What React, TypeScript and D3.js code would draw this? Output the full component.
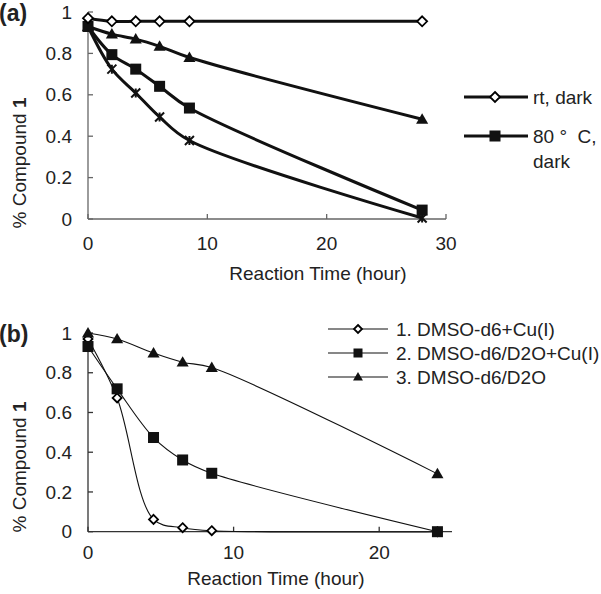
import * as d3 from "d3";

// panel (a): hours and % Compound 1
const hoursA = [0, 2, 4, 6, 8.5, 28];
const rtDark = [0.97, 0.955, 0.955, 0.955, 0.955, 0.955];
const hotDark = [0.93, 0.794, 0.724, 0.641, 0.536, 0.043];
const triA = [0.93, 0.893, 0.869, 0.834, 0.78, 0.482];
const crossA = [0.93, 0.724, 0.609, 0.493, 0.379, 0.005];

// panel (b)
const hoursB = [0, 2, 4.5, 6.5, 8.5, 24];
const dmsoCu = [0.97, 0.673, 0.062, 0.02, 0.005, 0];
const dmsoD2oCu = [0.932, 0.719, 0.474, 0.361, 0.294, 0];
const dmsoD2o = [1.0, 0.97, 0.899, 0.853, 0.826, 0.291];

const yTicks = [0, 0.2, 0.4, 0.6, 0.8, 1];
const xTicksA = [0, 10, 20, 30];
const xTicksB = [0, 10, 20];

const FONT = "Liberation Sans, Arial, sans-serif";

type Shape = "diamond" | "square" | "triangle" | "cross";

function Marker({ shape, x, y, s }: { shape: Shape; x: number; y: number; s: number }) {
  const h = s / 2;
  if (shape === "diamond")
    return (
      <path
        d={`M${x},${y - h}L${x + h},${y}L${x},${y + h}L${x - h},${y}Z`}
        fill="#fff"
        stroke="#000"
        strokeWidth={1.8}
      />
    );
  if (shape === "square")
    return <rect x={x - h} y={y - h} width={s} height={s} fill="#111" />;
  if (shape === "triangle")
    return (
      <path
        d={`M${x},${y - h * 1.1}L${x + h * 1.1},${y + h * 0.8}L${x - h * 1.1},${y + h * 0.8}Z`}
        fill="#111"
      />
    );
  return (
    <path
      d={`M${x - h},${y - h}L${x + h},${y + h}M${x - h},${y + h}L${x + h},${y - h}M${x},${y - h}L${x},${y + h}`}
      stroke="#111"
      strokeWidth={2}
      fill="none"
    />
  );
}

function Series({
  xs, ys, x, y, shape, size, width,
}: {
  xs: number[]; ys: number[]; x: d3.ScaleLinear<number, number>; y: d3.ScaleLinear<number, number>;
  shape: Shape; size: number; width: number;
}) {
  const pts = xs.map((d, i) => [d, ys[i]] as [number, number]);
  const line = d3
    .line<[number, number]>()
    .x((d) => x(d[0]))
    .y((d) => y(d[1]))
    .curve(d3.curveCatmullRom.alpha(0.5));
  return (
    <g>
      <path d={line(pts) || ""} fill="none" stroke="#111" strokeWidth={width} />
      {pts.map((d, i) => (
        <Marker key={i} shape={shape} x={x(d[0])} y={y(d[1])} s={size} />
      ))}
    </g>
  );
}

function Axes({
  x, y, xTicks, titleX, titleY, tickDy, yTitleY, label, labelY, color,
}: {
  x: d3.ScaleLinear<number, number>; y: d3.ScaleLinear<number, number>; xTicks: number[];
  titleX: number; titleY: number; tickDy: number; yTitleY: number; label: string; labelY: number; color: string;
}) {
  const [x0, x1] = x.range();
  const [y0, y1] = y.range();
  const fs = 19;
  return (
    <g fontFamily={FONT} fill="#222">
      <line x1={x0} x2={x0} y1={y0} y2={y1} stroke={color} strokeWidth={1.3} />
      <line x1={x0} x2={x1} y1={y0} y2={y0} stroke={color} strokeWidth={1.3} />
      {xTicks.map((t) => (
        <g key={t}>
          <line x1={x(t)} x2={x(t)} y1={y0} y2={y0 - 5} stroke={color} strokeWidth={1.3} />
          <text x={x(t)} y={y0 + tickDy} fontSize={fs} textAnchor="middle" dy="0.35em">
            {t}
          </text>
        </g>
      ))}
      {yTicks.map((t) => (
        <g key={t}>
          <line x1={x0} x2={x0 + 5} y1={y(t)} y2={y(t)} stroke={color} strokeWidth={1.3} />
          <text x={x0 - 16} y={y(t)} fontSize={fs} textAnchor="end" dy="0.35em">
            {t}
          </text>
        </g>
      ))}
      <text x={titleX} y={titleY} fontSize={fs} textAnchor="middle" dy="0.35em">
        Reaction Time (hour)
      </text>
      <text
        transform={`translate(19,${yTitleY}) rotate(-90)`}
        fontSize={fs}
        textAnchor="middle"
        dy="0.35em"
      >
        % Compound <tspan fontWeight="bold">1</tspan>
      </text>
      <text x={-1} y={labelY} fontSize={23} fontWeight="bold" dy="0.35em">
        {label}
      </text>
    </g>
  );
}

export default function App() {
  const xA = d3.scaleLinear().domain([0, 30]).range([88, 446]);
  const yA = d3.scaleLinear().domain([0, 1]).range([219, 12]);
  const xB = d3.scaleLinear().domain([0, 25]).range([88, 452]);
  const yB = d3.scaleLinear().domain([0, 1]).range([531.7, 333]);

  const legA = [
    { label: ["rt, dark"], shape: "diamond" as Shape, y: 97 },
    { label: ["80 \u00b0\u00a0 C,", "dark"], shape: "square" as Shape, y: 136 },
  ];
  const legB = [
    { label: "1. DMSO-d6+Cu(I)", shape: "diamond" as Shape, y: 329 },
    { label: "2. DMSO-d6/D2O+Cu(I)", shape: "square" as Shape, y: 353 },
    { label: "3. DMSO-d6/D2O", shape: "triangle" as Shape, y: 377 },
  ];

  return (
    <svg width={601} height={594} style={{ position: "absolute", left: 0, top: 0, background: "#fff" }}>
      <rect width={601} height={594} fill="#fff" />
      {/* panel (a) */}
      <Axes x={xA} y={yA} xTicks={xTicksA} titleX={318} titleY={273} tickDy={24} yTitleY={163} label="(a)" labelY={13} color="#666" />
      <Series xs={hoursA} ys={crossA} x={xA} y={yA} shape="cross" size={9} width={3} />
      <Series xs={hoursA} ys={hotDark} x={xA} y={yA} shape="square" size={11} width={3} />
      <Series xs={hoursA} ys={triA} x={xA} y={yA} shape="triangle" size={11} width={3} />
      <Series xs={hoursA} ys={rtDark} x={xA} y={yA} shape="diamond" size={10} width={3} />
      <g fontFamily={FONT} fontSize={19} fill="#222">
        {legA.map((l) => (
          <g key={l.y}>
            <line x1={464} x2={528} y1={l.y} y2={l.y} stroke="#111" strokeWidth={3} />
            <Marker shape={l.shape} x={495} y={l.y} s={l.shape === "square" ? 11 : 10} />
            {l.label.map((s, i) => (
              <text key={i} x={533} y={l.y + i * 25} dy="0.35em">
                {s}
              </text>
            ))}
          </g>
        ))}
      </g>

      {/* panel (b) */}
      <Axes x={xB} y={yB} xTicks={xTicksB} titleX={276} titleY={578} tickDy={21} yTitleY={467} label="(b)" labelY={334} color="#333" />
      <Series xs={hoursB} ys={dmsoCu} x={xB} y={yB} shape="diamond" size={9} width={1.1} />
      <Series xs={hoursB} ys={dmsoD2o} x={xB} y={yB} shape="triangle" size={11} width={1.1} />
      <Series xs={hoursB} ys={dmsoD2oCu} x={xB} y={yB} shape="square" size={11} width={1.1} />
      <g fontFamily={FONT} fontSize={19} fill="#222">
        {legB.map((l) => (
          <g key={l.y}>
            <line x1={328} x2={388} y1={l.y} y2={l.y} stroke="#111" strokeWidth={1.1} />
            <Marker shape={l.shape} x={358} y={l.y} s={l.shape === "diamond" ? 8 : 9} />
            <text x={396} y={l.y} dy="0.35em">
              {l.label}
            </text>
          </g>
        ))}
      </g>
    </svg>
  );
}
